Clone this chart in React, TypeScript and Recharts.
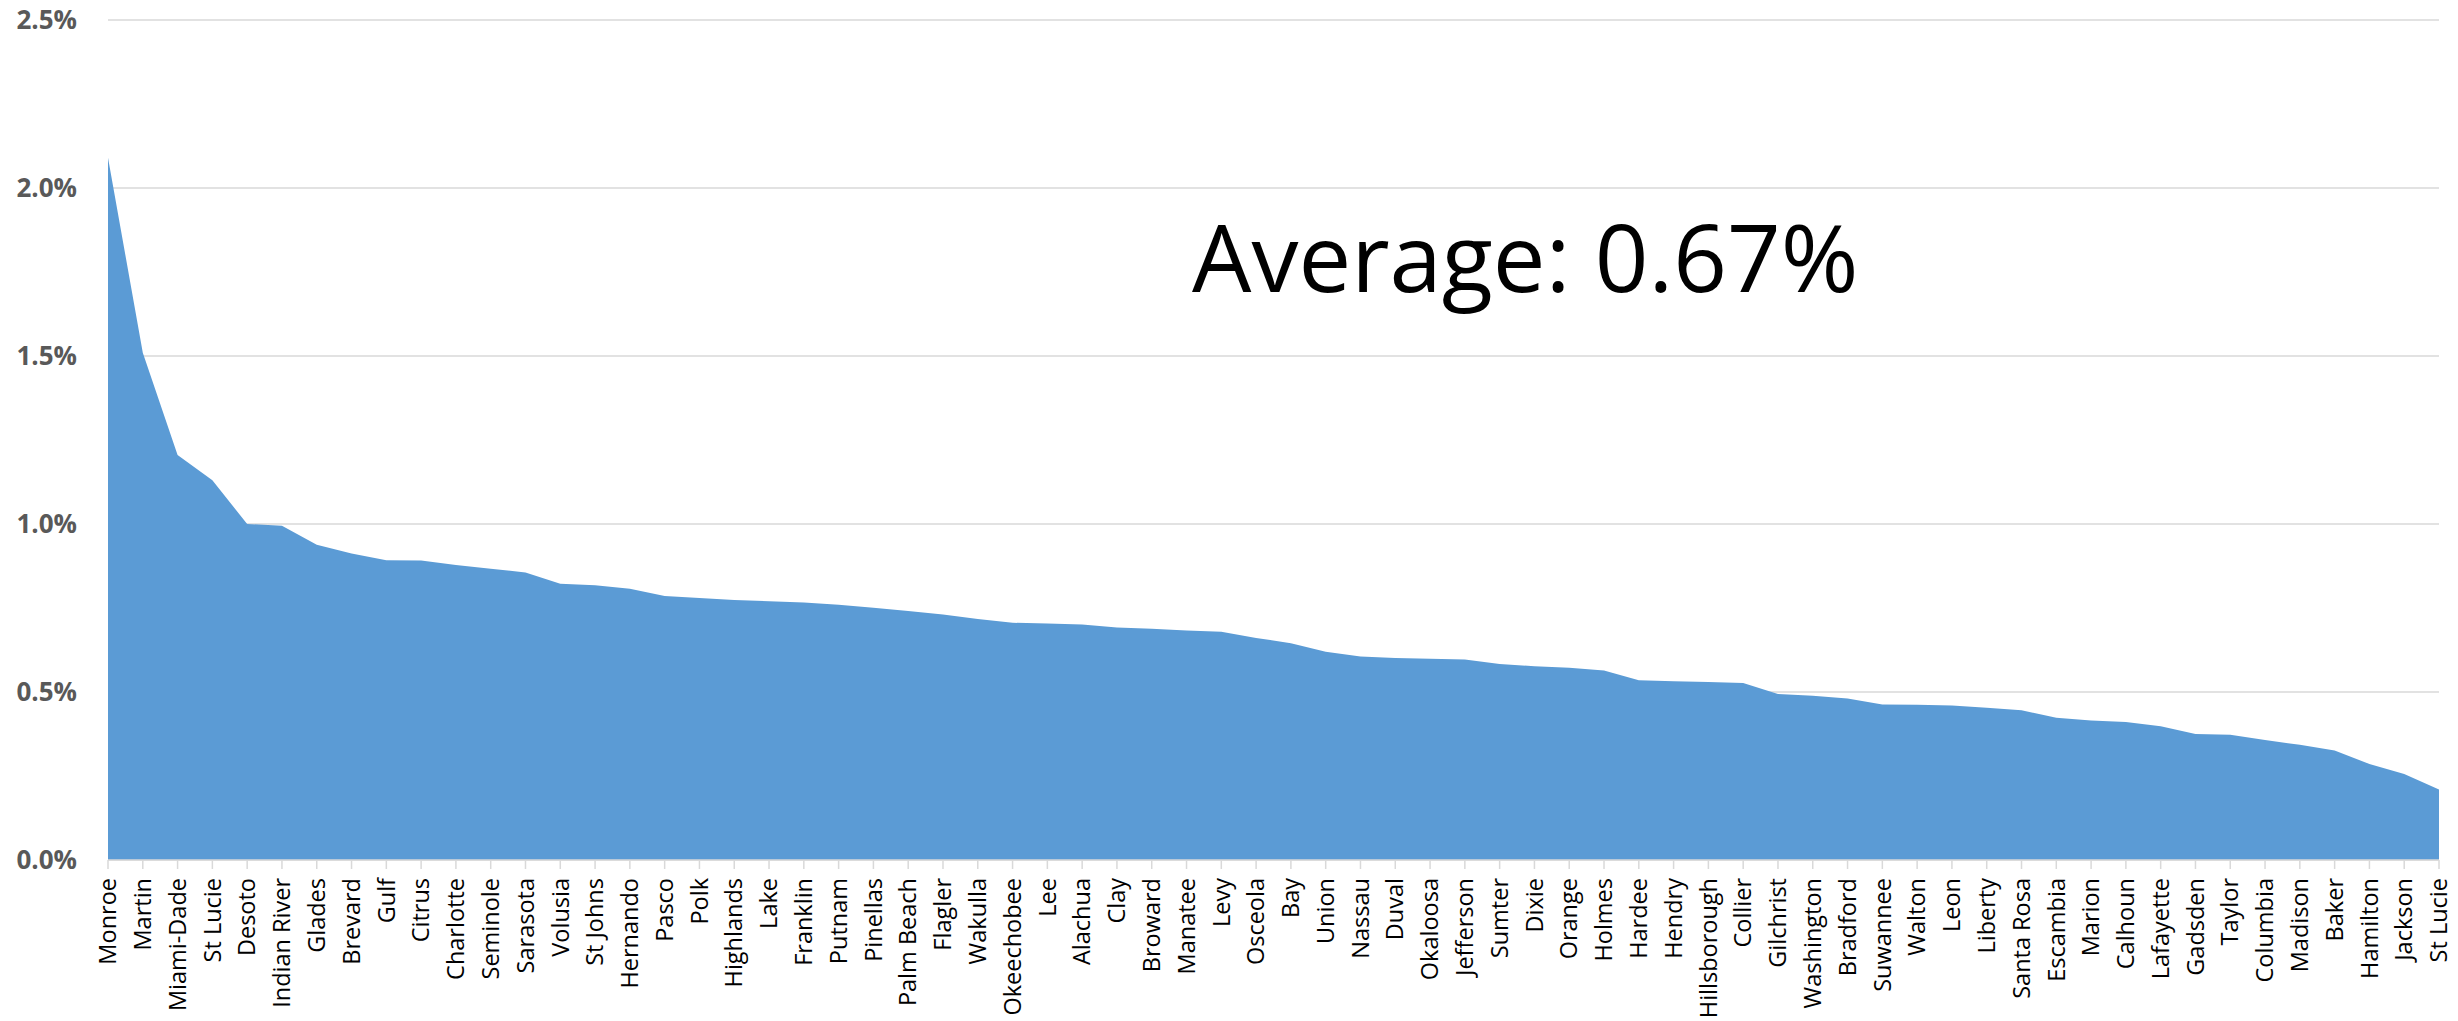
import { AreaChart, Area, XAxis, YAxis, CartesianGrid } from "recharts";

const counties = [
    "Monroe", "Martin", "Miami-Dade", "St Lucie", "Desoto", "Indian River", "Glades", "Brevard",
    "Gulf", "Citrus", "Charlotte", "Seminole", "Sarasota", "Volusia", "St Johns", "Hernando",
    "Pasco", "Polk", "Highlands", "Lake", "Franklin", "Putnam", "Pinellas", "Palm Beach",
    "Flagler", "Wakulla", "Okeechobee", "Lee", "Alachua", "Clay", "Broward", "Manatee",
    "Levy", "Osceola", "Bay", "Union", "Nassau", "Duval", "Okaloosa", "Jefferson",
    "Sumter", "Dixie", "Orange", "Holmes", "Hardee", "Hendry", "Hillsborough", "Collier",
    "Gilchrist", "Washington", "Bradford", "Suwannee", "Walton", "Leon", "Liberty", "Santa Rosa",
    "Escambia", "Marion", "Calhoun", "Lafayette", "Gadsden", "Taylor", "Columbia", "Madison",
    "Baker", "Hamilton", "Jackson", "St Lucie",
];

// percent values
const rates = [
    2.09, 1.51, 1.205, 1.13, 1.0, 0.995, 0.938, 0.912,
    0.892, 0.891, 0.878, 0.867, 0.856, 0.822, 0.818, 0.807,
    0.786, 0.78, 0.774, 0.77, 0.766, 0.76, 0.751, 0.741,
    0.731, 0.717, 0.706, 0.704, 0.701, 0.692, 0.688, 0.683,
    0.679, 0.661, 0.645, 0.62, 0.606, 0.601, 0.599, 0.597,
    0.583, 0.577, 0.572, 0.564, 0.535, 0.532, 0.53, 0.527,
    0.494, 0.489, 0.481, 0.463, 0.462, 0.46, 0.453, 0.446,
    0.423, 0.415, 0.411, 0.398, 0.375, 0.373, 0.357, 0.343,
    0.326, 0.286, 0.256, 0.21,
];

const yTicks = [0, 0.5, 1, 1.5, 2, 2.5];
const averageLabel = "Average: 0.67%";

const data = counties.map((county, i) => ({ county, rate: rates[i] }));

const CountyTick = (props: any) => {
    const { x, y, payload } = props;
    return (
        <text
            x={x}
            y={y}
            transform={`rotate(-90, ${x}, ${y})`}
            textAnchor="end"
            dy="0.35em"
            fontSize={23.5}
            fontFamily="Open Sans"
            fill="#000"
        >
            {payload.value}
        </text>
    );
};

const App = () => {
    return (
        <div style={{ position: "absolute", left: 0, top: 0, width: 2458, height: 1021, background: "#fff" }}>
            <AreaChart width={2458} height={1021} data={data} margin={{ top: 20, right: 19, bottom: 0, left: 0 }}>
                <CartesianGrid vertical={false} stroke="#d9d9d9" strokeWidth={1.5} />
                <XAxis
                    dataKey="county"
                    interval={0}
                    height={161}
                    tick={<CountyTick />}
                    tickSize={9}
                    tickMargin={9}
                    axisLine={{ stroke: "#d9d9d9", strokeWidth: 1.5 }}
                    tickLine={{ stroke: "#d9d9d9", strokeWidth: 1.5 }}
                />
                <YAxis
                    width={108}
                    domain={[0, 2.5]}
                    ticks={yTicks}
                    tickFormatter={(v: number) => `${v.toFixed(1)}%`}
                    axisLine={false}
                    tickLine={false}
                    tickSize={0}
                    tickMargin={31}
                    tick={{ fontSize: 26, fontFamily: "Open Sans", fontWeight: 700, fill: "#595959" }}
                />
                <Area
                    type="linear"
                    dataKey="rate"
                    stroke="none"
                    fill="#5b9bd5"
                    fillOpacity={1}
                    isAnimationActive={false}
                />
            </AreaChart>
            <svg width={2458} height={1021} style={{ position: "absolute", left: 0, top: 0, pointerEvents: "none" }}>
                <text x={1192} y={292} fontSize={94} fontFamily="Open Sans" fill="#000">
                    {averageLabel}
                </text>
            </svg>
        </div>
    );
};

export default App;
